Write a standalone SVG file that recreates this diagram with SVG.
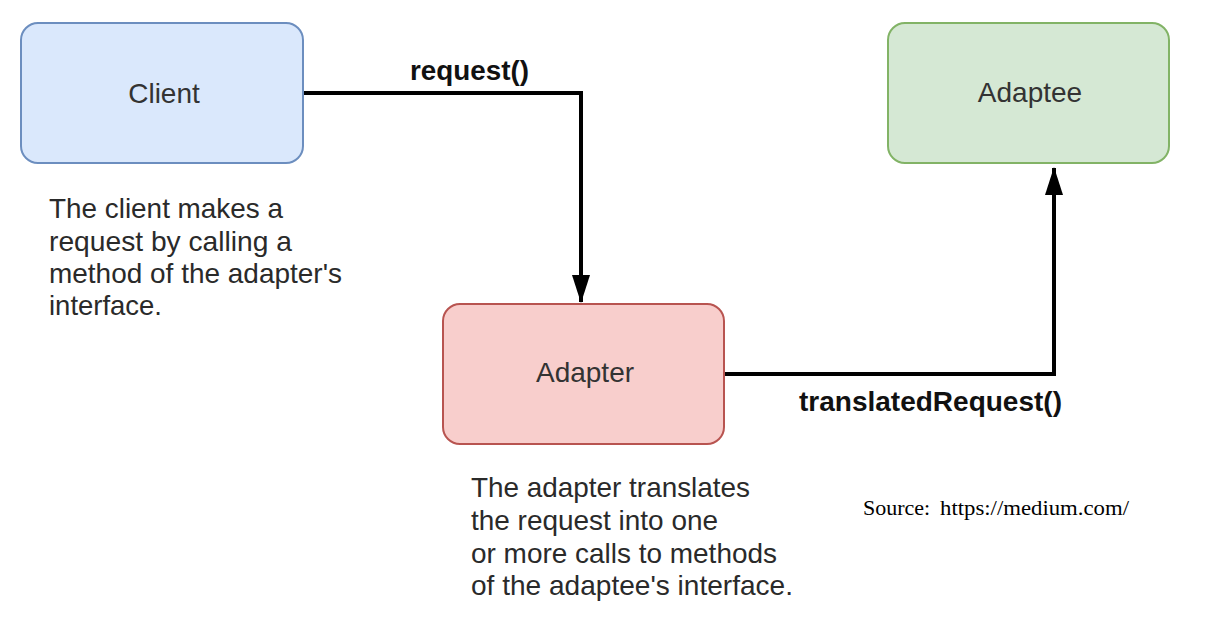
<svg xmlns="http://www.w3.org/2000/svg" width="1212" height="629" viewBox="0 0 1212 629">
  <style>
    .box { stroke-width: 2; }
    .ntext { font-family: "Liberation Sans", Arial, sans-serif; font-size: 28px; fill: #333333; text-anchor: middle; }
    .desc { font-family: "Liberation Sans", Arial, sans-serif; font-size: 28px; fill: #2a2a2a; }
    .lbl { font-family: "Liberation Sans", Arial, sans-serif; font-size: 28px; font-weight: bold; fill: #111111; }
    .src { font-family: "Liberation Serif", "Times New Roman", serif; font-size: 22px; fill: #000000; }
    .conn { fill: none; stroke: #000000; stroke-width: 4; }
  </style>
  <defs>
    <marker id="arr" markerUnits="userSpaceOnUse" markerWidth="28" markerHeight="20" viewBox="0 0 28 20" refX="27" refY="10" orient="auto">
      <path d="M0,1 L28,10 L0,19 Z" fill="#000000"/>
    </marker>
  </defs>
  <rect width="1212" height="629" fill="#ffffff"/>

  <g id="connectors">
    <path class="conn" d="M303,93 H581 V302" marker-end="url(#arr)"/>
    <path class="conn" d="M725,374 H1054 V168" marker-end="url(#arr)"/>
    <text class="lbl" x="410" y="80" textLength="119" lengthAdjust="spacingAndGlyphs">request()</text>
    <text class="lbl" x="799" y="411" textLength="263" lengthAdjust="spacingAndGlyphs">translatedRequest()</text>
  </g>

  <g id="client">
    <rect class="box" x="21" y="23" width="282" height="140" rx="17" ry="17" fill="#dae8fc" stroke="#6c8ebf"/>
    <text class="ntext" x="164" y="103">Client</text>
  </g>

  <g id="adaptee">
    <rect class="box" x="888" y="23" width="281" height="140" rx="17" ry="17" fill="#d5e8d4" stroke="#82b366"/>
    <text class="ntext" x="1030" y="102">Adaptee</text>
  </g>

  <g id="adapter">
    <rect class="box" x="443" y="304" width="281" height="140" rx="17" ry="17" fill="#f8cecc" stroke="#b85450"/>
    <text class="ntext" x="585" y="382">Adapter</text>
  </g>

  <g id="client-note">
    <text class="desc" x="49" y="218" textLength="234" lengthAdjust="spacingAndGlyphs">The client makes a</text>
    <text class="desc" x="49" y="251" textLength="243" lengthAdjust="spacingAndGlyphs">request by calling a</text>
    <text class="desc" x="49" y="283" textLength="293" lengthAdjust="spacingAndGlyphs">method of the adapter's</text>
    <text class="desc" x="49" y="315" textLength="113" lengthAdjust="spacingAndGlyphs">interface.</text>
  </g>

  <g id="adapter-note">
    <text class="desc" x="471" y="497" textLength="279" lengthAdjust="spacingAndGlyphs">The adapter translates</text>
    <text class="desc" x="471" y="530" textLength="247" lengthAdjust="spacingAndGlyphs">the request into one</text>
    <text class="desc" x="471" y="563" textLength="306" lengthAdjust="spacingAndGlyphs">or more calls to methods</text>
    <text class="desc" x="471" y="595" textLength="322" lengthAdjust="spacingAndGlyphs">of the adaptee's interface.</text>
  </g>

  <g id="source">
    <text class="src" x="863" y="515">Source:<tspan x="940" textLength="189" lengthAdjust="spacingAndGlyphs">https://medium.com/</tspan></text>
  </g>
</svg>
